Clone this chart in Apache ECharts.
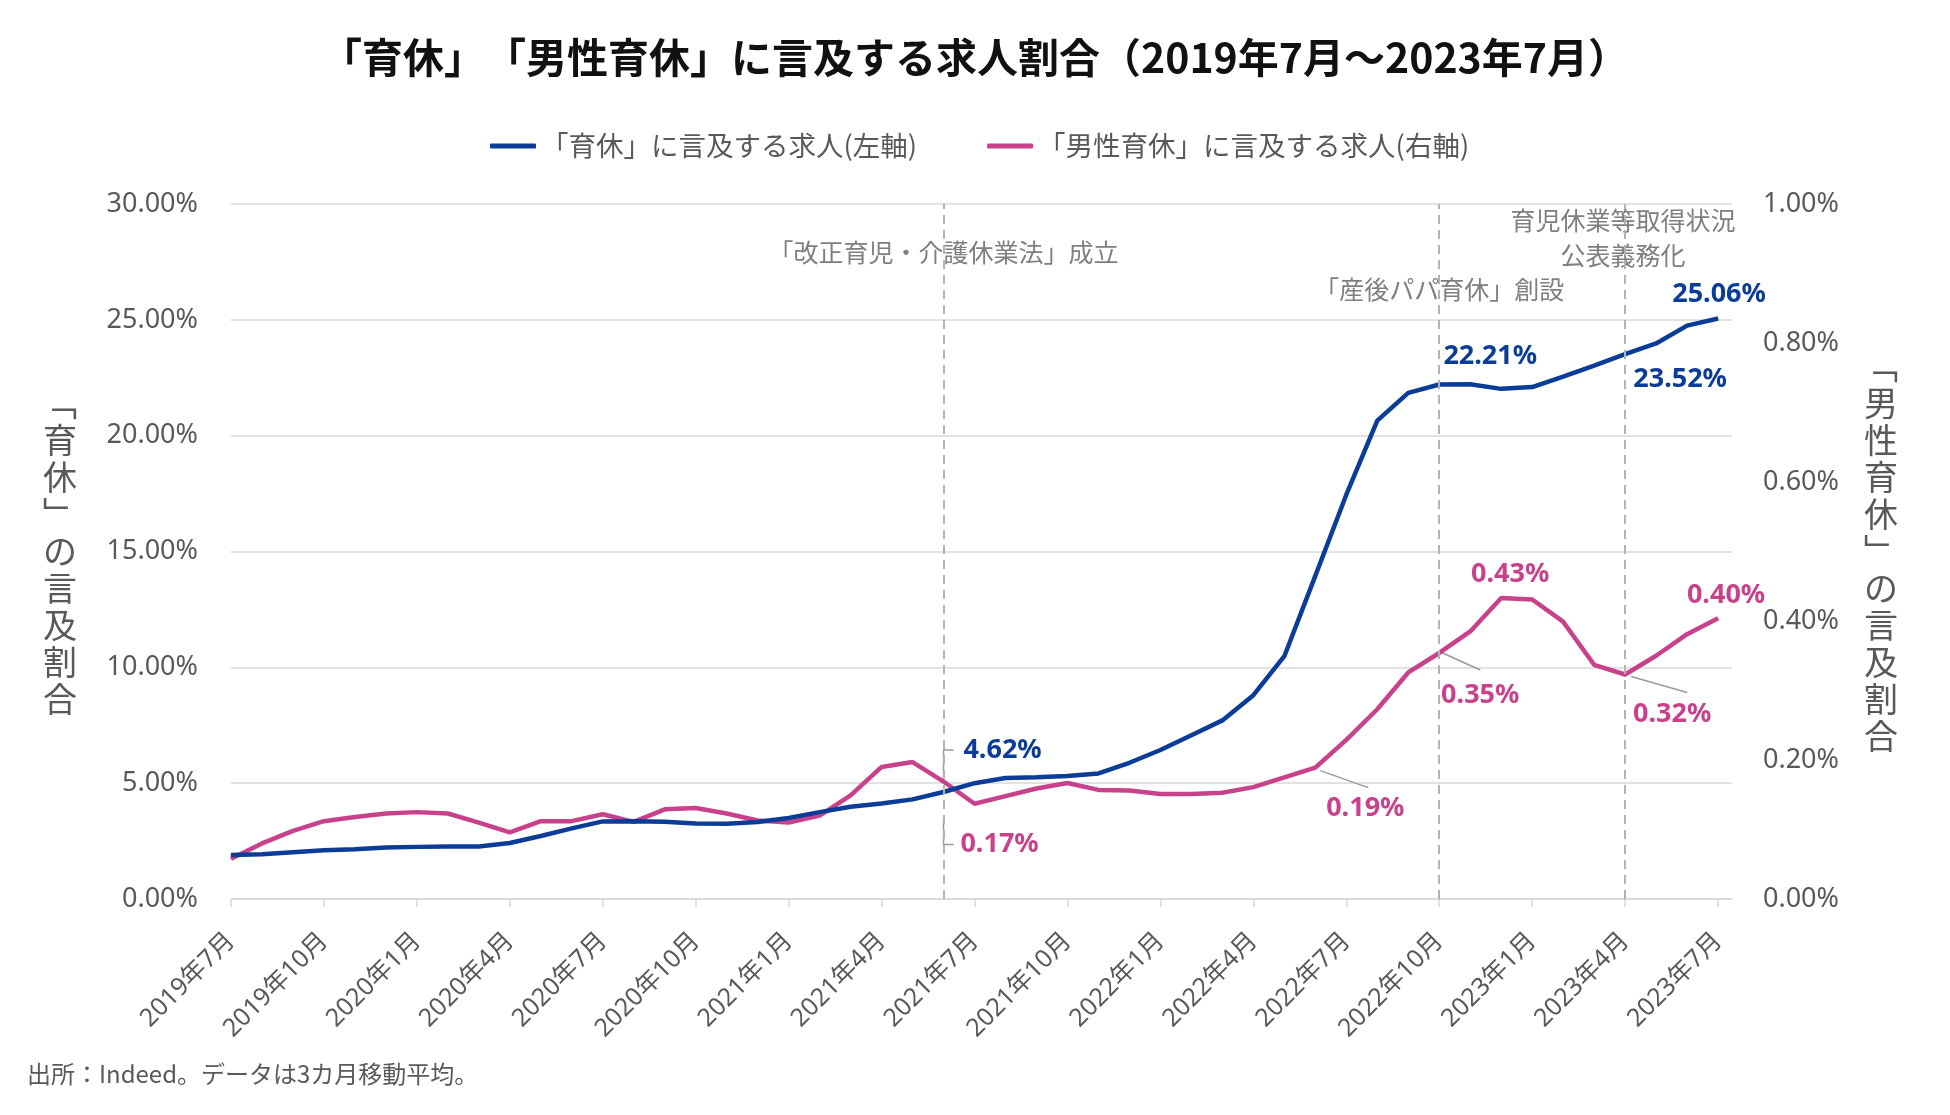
<!DOCTYPE html>
<html>
<head>
<meta charset="utf-8">
<script src="https://cdn.jsdelivr.net/npm/echarts@6/dist/echarts.min.js"></script>
<style>
html,body{margin:0;padding:0;background:#fff}
#c{width:1950px;height:1115px}
#c, #c *{ text-spacing-trim: space-all; }
</style>
</head>
<body>
<div id="c"></div>
<script>
// ---- data ----
const months = ['2019-07','2019-08','2019-09','2019-10','2019-11','2019-12',
  '2020-01','2020-02','2020-03','2020-04','2020-05','2020-06','2020-07','2020-08','2020-09','2020-10','2020-11','2020-12',
  '2021-01','2021-02','2021-03','2021-04','2021-05','2021-06','2021-07','2021-08','2021-09','2021-10','2021-11','2021-12',
  '2022-01','2022-02','2022-03','2022-04','2022-05','2022-06','2022-07','2022-08','2022-09','2022-10','2022-11','2022-12',
  '2023-01','2023-02','2023-03','2023-04','2023-05','2023-06','2023-07'];
const tickLabels = ['2019年7月','2019年10月','2020年1月','2020年4月','2020年7月','2020年10月','2021年1月','2021年4月',
  '2021年7月','2021年10月','2022年1月','2022年4月','2022年7月','2022年10月','2023年1月','2023年4月','2023年7月'];
// 「育休」に言及する求人 (%; left axis)
const ikukyu = [1.90,1.93,2.02,2.10,2.15,2.22,2.25,2.27,2.27,2.42,2.72,3.05,3.35,3.36,3.33,3.26,3.25,3.32,3.50,3.75,
  3.98,4.12,4.30,4.62,5.00,5.22,5.26,5.31,5.42,5.88,6.43,7.07,7.71,8.80,10.48,13.95,17.45,20.65,21.85,22.21,
  22.22,22.02,22.10,22.55,23.02,23.52,23.98,24.75,25.06];
// 「男性育休」に言及する求人 (%; right axis)
const danseiIkukyu = [0.058,0.080,0.098,0.112,0.118,0.123,0.125,0.123,0.110,0.096,0.112,0.112,0.122,0.111,0.129,0.131,
  0.123,0.113,0.110,0.120,0.149,0.190,0.197,0.169,0.137,0.148,0.159,0.167,0.157,0.156,0.151,0.151,0.153,0.161,
  0.175,0.189,0.229,0.273,0.326,0.354,0.385,0.433,0.431,0.399,0.337,0.323,0.350,0.381,0.404];
const seriesNames = ['「育休」に言及する求人(左軸)','「男性育休」に言及する求人(右軸)'];
const titleText = '「育休」\u200B「男性育休」に言及する求人割合（2019年7月～2023年7月）';
const events = [
  {month:'2021-06', text:['「改正育児・介護休業法」成立']},
  {month:'2022-10', text:['「産後パパ育休」創設']},
  {month:'2023-04', text:['育児休業等取得状況','公表義務化']}
];
const labeledMonths = [
  ['2021-06','2022-10','2023-04','2023-07'],
  ['2021-06','2022-06','2022-10','2022-12','2023-04','2023-07']
];

// ---- layout / style ----
const BLUE = '#0A3C98', PINK = '#C8428B', GRAY = '#595959';
const labelOffsets = [
  {'2021-06':[59,-42], '2022-10':[51,-28], '2023-04':[55,25], '2023-07':[1,-24]},
  {'2021-06':[56,63], '2022-06':[50,41], '2022-10':[41,42], '2022-12':[9,-24], '2023-04':[47,40], '2023-07':[8,-23]}
];
const leaderShapes = [
  {s:0, m:'2021-06', pts:[[0,-14],[0,-42],[10,-42]]},
  {s:1, m:'2021-06', pts:[[0,38],[0,63],[10,63]]},
  {s:1, m:'2022-06', pts:[[5,3],[53,20]]},
  {s:1, m:'2022-10', pts:[[-1,-2],[41,17]]},
  {s:1, m:'2023-04', pts:[[6,2],[62,18]]}
];
const eventTextStyle = [
  {dx:0, ys:[252]},
  {dx:0, ys:[289]},
  {dx:-2, ys:[220,255]}
];

function buildData(vals, s, color) {
  return vals.map((v, i) => {
    const m = months[i];
    const item = {value: [i, v]};
    if (labeledMonths[s].indexOf(m) >= 0) {
      item.label = {
        show: true, position: 'inside', offset: labelOffsets[s][m],
        formatter: p => p.value[1].toFixed(2) + '%',
        color: color, fontSize: 27, fontWeight: 'bold',
        fontFamily: "'Noto Sans', 'Open Sans', sans-serif"
      };
    }
    return item;
  });
}

const tickValues = tickLabels.map((t, k) => k * 3);
const chart = echarts.init(document.getElementById('c'), null, {renderer: 'canvas'});
const option = {
  animation: false,
  backgroundColor: '#ffffff',
  title: {
    text: titleText,
    left: 'center', top: 29,
    textStyle: {fontSize: 41, fontWeight: 'bold', color: '#111', lineHeight: 46,
      fontFamily: "'Noto Sans CJK JP', sans-serif"}
  },
  legend: {
    left: 490, top: 131, padding: 0, itemWidth: 46, itemHeight: 5, itemGap: 70, icon: 'roundRect',
    data: seriesNames,
    textStyle: {fontSize: 27.5, color: GRAY, lineHeight: 30, fontFamily: "'Noto Sans CJK JP', sans-serif"}
  },
  grid: {left: 231, right: 218, top: 204, bottom: 216, containLabel: false},
  xAxis: {
    type: 'value', min: 0, max: 48.45,
    axisLine: {show: true, lineStyle: {color: '#D9D9D9', width: 1.5}},
    axisTick: {show: true, length: 8, customValues: tickValues, lineStyle: {color: '#D9D9D9', width: 1.5}},
    axisLabel: {
      customValues: tickValues, rotate: 45, margin: 38,
      formatter: v => tickLabels[Math.round(v / 3)],
      fontSize: 25, color: GRAY, fontFamily: "'Noto Sans', 'Noto Sans CJK JP', sans-serif"
    },
    splitLine: {show: false}
  },
  yAxis: [
    {
      type: 'value', min: 0, max: 30, interval: 5,
      name: '﹁\n育\n休\n﹂\nの\n言\n及\n割\n合',
      nameLocation: 'middle', nameRotate: 0, nameGap: 171,
      nameTextStyle: {fontSize: 34, lineHeight: 37, color: GRAY, align: 'center', verticalAlign: 'middle',
        fontFamily: "'Noto Sans CJK JP', sans-serif"},
      axisLine: {show: false}, axisTick: {show: false},
      axisLabel: {formatter: v => v.toFixed(2) + '%', fontSize: 27, color: GRAY, margin: 33,
        fontFamily: "'Noto Sans', 'Open Sans', sans-serif"},
      splitLine: {show: true, lineStyle: {color: '#D9D9D9', width: 1.5}}
    },
    {
      type: 'value', min: 0, max: 1, interval: 0.2,
      name: '﹁\n男\n性\n育\n休\n﹂\nの\n言\n及\n割\n合',
      nameLocation: 'middle', nameRotate: 0, nameGap: 149,
      nameTextStyle: {fontSize: 34, lineHeight: 37, color: GRAY, align: 'center', verticalAlign: 'middle',
        fontFamily: "'Noto Sans CJK JP', sans-serif"},
      axisLine: {show: false}, axisTick: {show: false},
      axisLabel: {formatter: v => v.toFixed(2) + '%', fontSize: 27, color: GRAY, margin: 31,
        fontFamily: "'Noto Sans', 'Open Sans', sans-serif"},
      splitLine: {show: false}
    }
  ],
  series: [
    {
      name: seriesNames[0], type: 'line', yAxisIndex: 0,
      data: buildData(ikukyu, 0, BLUE),
      showSymbol: true, showAllSymbol: true, symbol: 'circle', symbolSize: 1,
      itemStyle: {color: BLUE}, lineStyle: {color: BLUE, width: 4.5}, z: 3,
      markLine: {
        silent: true, symbol: ['none','none'], label: {show: false},
        lineStyle: {type: [9, 6], color: '#B3B3B3', width: 2},
        data: events.map(e => ({xAxis: months.indexOf(e.month)}))
      }
    },
    {
      name: seriesNames[1], type: 'line', yAxisIndex: 1,
      data: buildData(danseiIkukyu, 1, PINK),
      showSymbol: true, showAllSymbol: true, symbol: 'circle', symbolSize: 1,
      itemStyle: {color: PINK}, lineStyle: {color: PINK, width: 4.5}, z: 2
    }
  ]
};
chart.setOption(option);

// annotations & leader lines positioned through the chart's own scales
const graphics = [];
leaderShapes.forEach(L => {
  const i = months.indexOf(L.m);
  const val = L.s === 0 ? ikukyu[i] : danseiIkukyu[i];
  const p = chart.convertToPixel({seriesIndex: L.s}, [i, val]);
  graphics.push({
    type: 'polyline', silent: true, z: 1,
    shape: {points: L.pts.map(d => [p[0] + d[0], p[1] + d[1]])},
    style: {stroke: '#9A9A9A', lineWidth: 1.5, fill: null}
  });
});
events.forEach((e, k) => {
  const x = chart.convertToPixel({xAxisIndex: 0}, months.indexOf(e.month));
  e.text.forEach((t, j) => {
    graphics.push({
      type: 'text', silent: true,
      x: x + eventTextStyle[k].dx, y: eventTextStyle[k].ys[j],
      style: {text: t, fill: '#7F7F7F', fontSize: 25, align: 'center', verticalAlign: 'middle',
        fontFamily: "'Noto Sans CJK JP', sans-serif"}
    });
  });
});
graphics.push({
  type: 'text', silent: true, x: 27, y: 1074,
  style: {text: '出所：Indeed。データは3カ月移動平均。', fill: GRAY, fontSize: 24, align: 'left', verticalAlign: 'middle',
    fontFamily: "'Noto Sans CJK JP', sans-serif"}
});
chart.setOption({graphic: graphics});
</script>
</body>
</html>
